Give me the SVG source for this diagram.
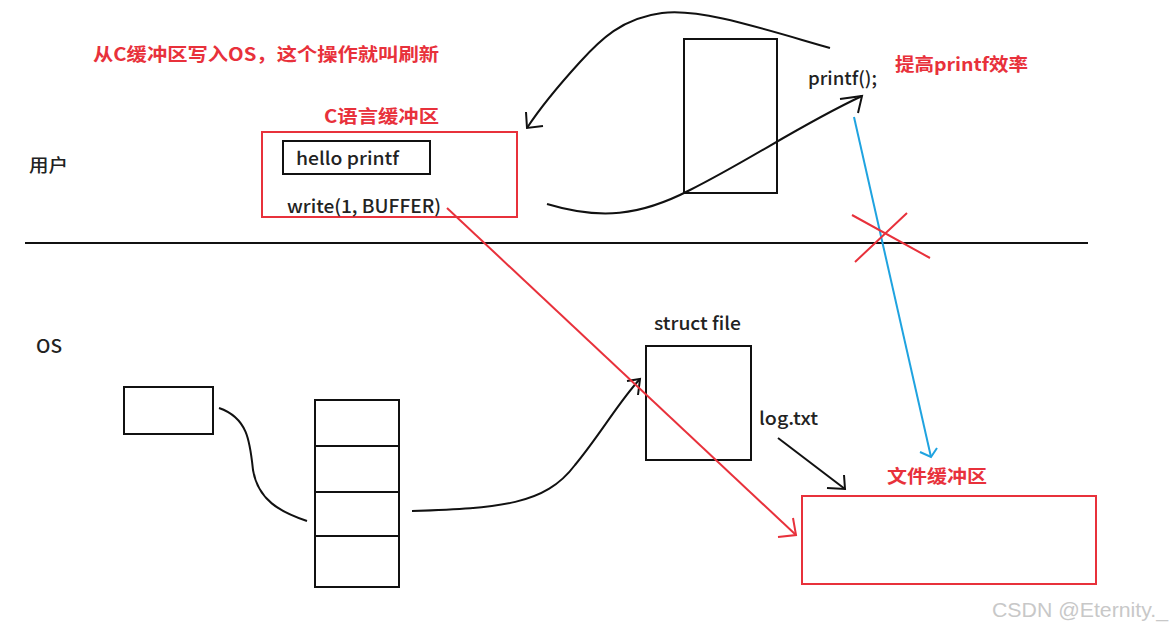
<svg xmlns="http://www.w3.org/2000/svg" width="1171" height="630" viewBox="0 0 1171 630">
<style>
.t{font-family:"Noto Sans CJK SC","Noto Sans",sans-serif;font-size:18px;font-weight:500;fill:#222;dominant-baseline:central}
.r{font-family:"Noto Sans CJK SC","Noto Sans",sans-serif;font-size:18px;font-weight:bold;fill:#e8313b;dominant-baseline:central}
.bk{fill:none;stroke:#111;stroke-width:2}
.rd{fill:none;stroke:#e8313b;stroke-width:2}
.bl{fill:none;stroke:#1fa3e0;stroke-width:2}
.wm{font-family:"Liberation Sans",sans-serif;font-size:20px;fill:#c8c8c8;dominant-baseline:central}
</style>
<rect width="1171" height="630" fill="#fff"/>
<g id="title"><text class="r" x="93" y="53" textLength="346" lengthAdjust="spacingAndGlyphs">从C缓冲区写入OS，这个操作就叫刷新</text></g>
<g id="label-user"><text class="t" x="29" y="164" textLength="39" lengthAdjust="spacingAndGlyphs">用户</text></g>
<g id="label-os"><text class="t" x="36" y="345" textLength="26" lengthAdjust="spacingAndGlyphs">OS</text></g>
<g id="divider"><line class="bk" x1="25" y1="243" x2="1088" y2="243"/></g>
<g id="c-buffer">
<text class="r" x="324" y="115" textLength="115" lengthAdjust="spacingAndGlyphs">C语言缓冲区</text>
<rect class="rd" x="262" y="132" width="255" height="85"/>
<rect class="bk" x="283" y="141" width="147" height="33"/>
<text class="t" x="296" y="157" textLength="103" lengthAdjust="spacingAndGlyphs">hello printf</text>
<text class="t" x="287" y="205" textLength="154" lengthAdjust="spacingAndGlyphs">write(1, BUFFER)</text>
</g>
<g id="tall-box"><rect class="bk" x="684" y="39" width="93" height="154"/></g>
<g id="printf"><text class="t" x="808" y="77" textLength="69" lengthAdjust="spacingAndGlyphs">printf();</text></g>
<g id="efficiency"><text class="r" x="895" y="63" textLength="133" lengthAdjust="spacingAndGlyphs">提高printf效率</text></g>
<g id="small-box"><rect class="bk" x="124" y="387" width="89" height="47"/></g>
<g id="stack">
<rect class="bk" x="315" y="400" width="84" height="187"/>
<line class="bk" x1="315" y1="446" x2="399" y2="446"/>
<line class="bk" x1="315" y1="492" x2="399" y2="492"/>
<line class="bk" x1="315" y1="536" x2="399" y2="536"/>
</g>
<g id="struct-file">
<text class="t" x="654" y="322" textLength="87" lengthAdjust="spacingAndGlyphs">struct file</text>
<rect class="bk" x="646" y="346" width="105" height="114"/>
</g>
<g id="log-txt"><text class="t" x="759" y="417" textLength="59" lengthAdjust="spacingAndGlyphs">log.txt</text></g>
<g id="file-buffer">
<text class="r" x="887" y="475" textLength="100" lengthAdjust="spacingAndGlyphs">文件缓冲区</text>
<rect class="rd" x="802" y="496" width="294" height="88"/>
</g>
<g id="connectors">
<path class="bk" d="M830,48 C 760,28 700,8 662,13 C 622,18 600,40 580,62 C 560,84 540,108 527,128"/>
<path class="bk" d="M526,112 L527,128 L543,126"/>
<path class="bk" d="M547,204 C 600,220 640,216 690,190 C 750,160 800,125 862,96"/>
<path class="bk" d="M840,99 L862,96 L858,113"/>
<path class="bk" d="M219,408 C 248,418 250,442 253,470 C 258,500 280,512 307,521"/>
<path class="bk" d="M412,511 C 500,508 545,505 575,465 C 600,435 620,400 640,379"/>
<path class="bk" d="M627,381 L640,379 L638,395"/>
<path class="bk" d="M778,438 L845,489"/>
<path class="bk" d="M827,488 L845,489 L844,475"/>
<path class="rd" d="M447,208 L796,535"/>
<path class="rd" d="M793,518 L796,535 L778,537"/>
<path class="bl" d="M854,117 L931,457"/>
<path class="bl" d="M920,452 L931,457 L937,448"/>
<path class="rd" d="M852,215 L930,258 M907,213 L855,262"/>
</g>
<g id="watermark"><text class="wm" x="992" y="610" textLength="176" lengthAdjust="spacingAndGlyphs">CSDN @Eternity._</text></g>
</svg>
